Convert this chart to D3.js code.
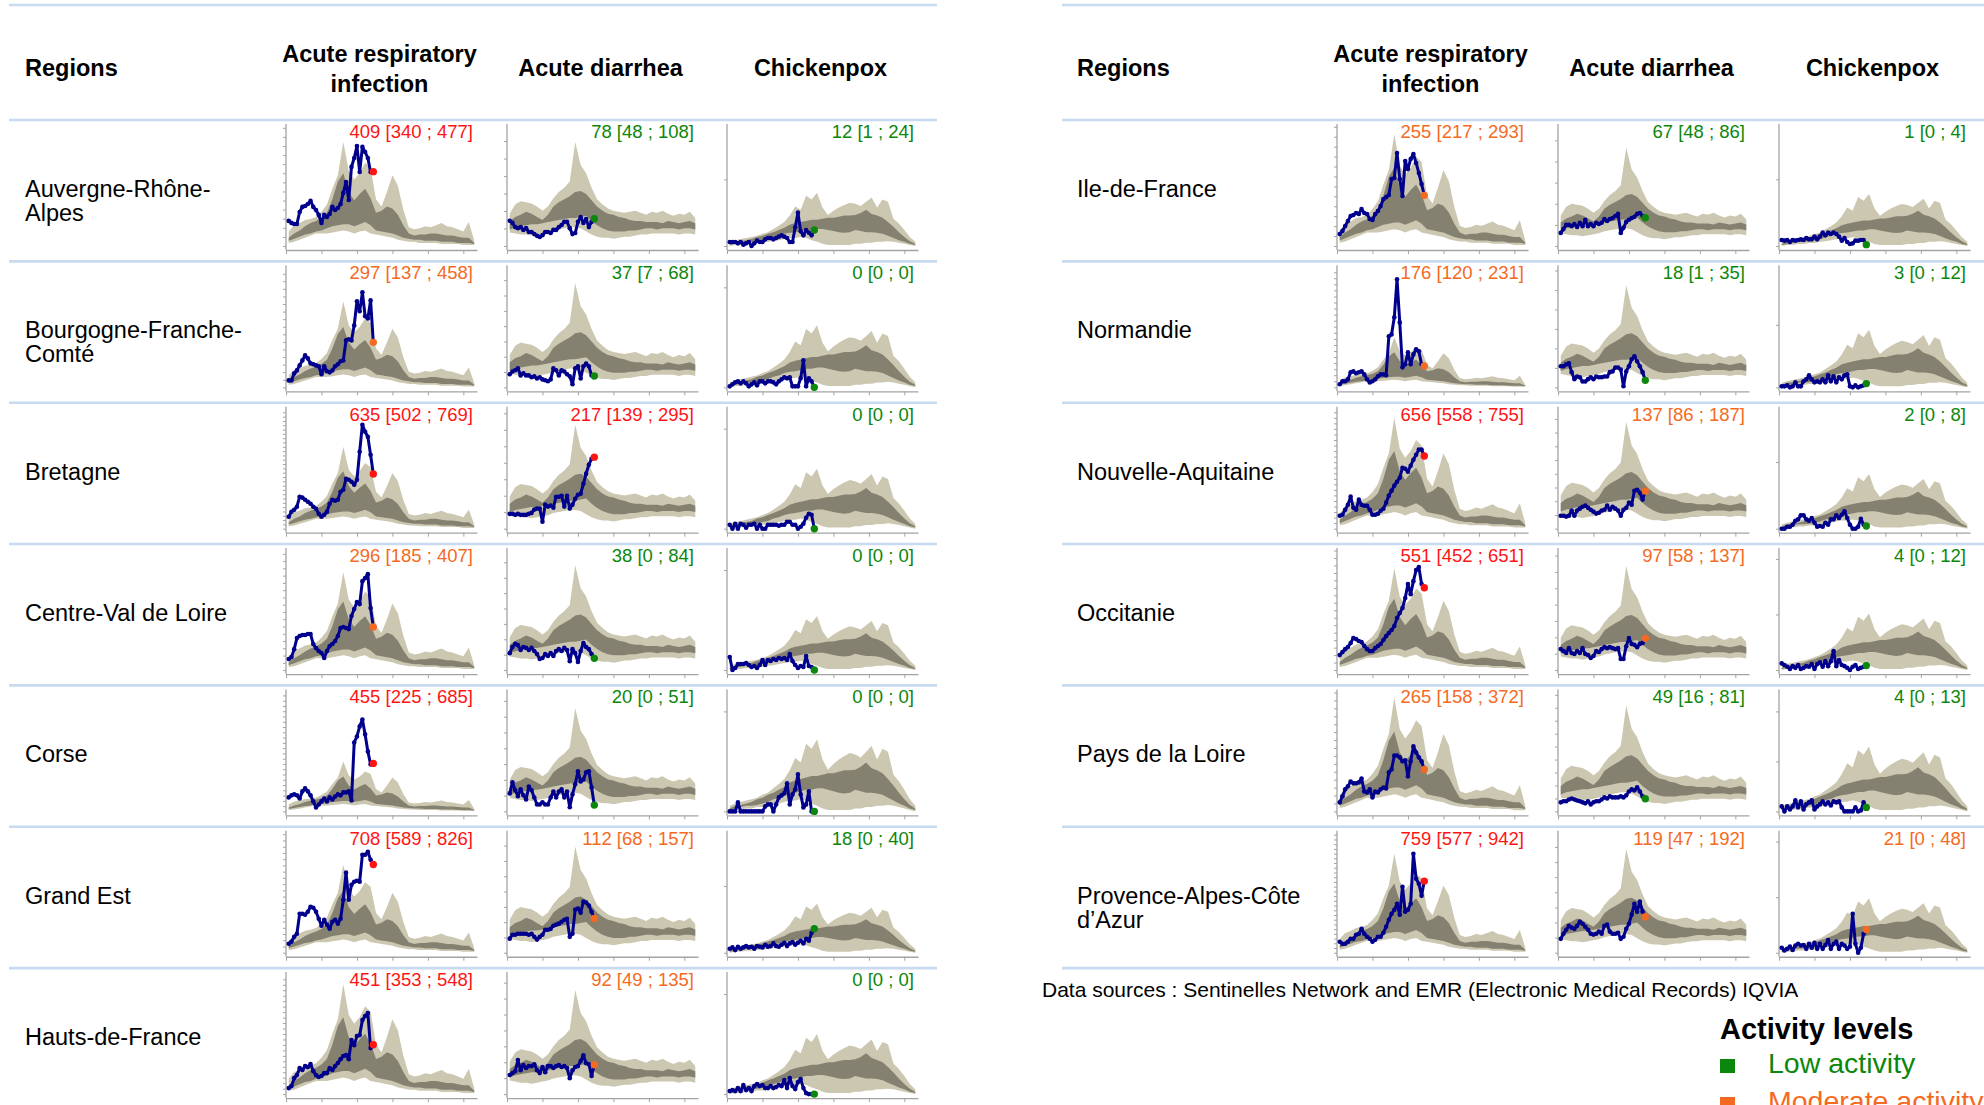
<!DOCTYPE html>
<html>
<head>
<meta charset="utf-8">
<script src="https://cdn.jsdelivr.net/npm/d3@7"></script>
<style>
  html, body { margin: 0; padding: 0; background: #ffffff; }
  svg { display: block; font-family: "Liberation Sans", Arial, Helvetica, sans-serif; }
</style>
</head>
<body>
<script>
// ---------------------------------------------------------------------------
// Surveillance table: weekly incidence per 100,000 by region and indicator
// ---------------------------------------------------------------------------

const indicators = ["Acute respiratory infection", "Acute diarrhea", "Chickenpox"];

const regions = [
  "Auvergne-Rhône-Alpes", "Bourgogne-Franche-Comté", "Bretagne", "Centre-Val de Loire",
  "Corse", "Grand Est", "Hauts-de-France",
  "Ile-de-France", "Normandie", "Nouvelle-Aquitaine", "Occitanie", "Pays de la Loire",
  "Provence-Alpes-Côte d’Azur"
];

// Current week estimate with its confidence interval: [ARI, diarrhea, chickenpox]
const estimate = [
  [409, 78, 12], [297, 37, 0], [635, 217, 0], [296, 38, 0], [455, 20, 0], [708, 112, 18], [451, 92, 0],
  [255, 67, 1], [176, 18, 3], [656, 137, 2], [551, 97, 4], [265, 49, 4], [759, 119, 21]
];
const lowerCI = [
  [340, 48, 1], [137, 7, 0], [502, 139, 0], [185, 0, 0], [225, 0, 0], [589, 68, 0], [353, 49, 0],
  [217, 48, 0], [120, 1, 0], [558, 86, 0], [452, 58, 0], [158, 16, 0], [577, 47, 0]
];
const upperCI = [
  [477, 108, 24], [458, 68, 0], [769, 295, 0], [407, 84, 0], [685, 51, 0], [826, 157, 40], [548, 135, 0],
  [293, 86, 4], [231, 35, 12], [755, 187, 8], [651, 137, 12], [372, 81, 13], [942, 192, 48]
];
const activity = [
  ["high", "low", "low"], ["moderate", "low", "low"], ["high", "high", "low"], ["moderate", "low", "low"],
  ["high", "low", "low"], ["high", "moderate", "low"], ["high", "moderate", "low"],
  ["moderate", "low", "low"], ["moderate", "low", "low"], ["high", "moderate", "low"],
  ["high", "moderate", "low"], ["moderate", "low", "low"], ["high", "moderate", "moderate"]
];

// Top of each sparkline's value axis, and the historical seasonal peak used for the bands
const axisTop = [
  [660, 343, 90], [792, 392, 60], [1392, 364, 60], [826, 390, 60], [1138, 380, 60], [962, 392, 90], [1098, 377, 60],
  [604, 284, 90], [990, 308, 96], [1082, 437, 90], [803, 367, 108], [757, 463, 120], [1271, 397, 108]
];
const historicPeak = [
  [572, 297, 40], [568, 340, 31], [951, 315, 30], [674, 341, 27], [474, 327, 36], [706, 347, 37], [1006, 327, 30],
  [563, 232, 39], [413, 262, 46], [1001, 389, 41], [682, 318, 51], [719, 409, 65], [1048, 344, 49]
];

// Historical seasonal profiles (% of the seasonal peak), every second week of the season
const ariOuterHigh = [14,20,22,25,26,28,33,40,55,68,100,72,64,70,80,75,45,38,52,68,58,35,18,16,17,19,18,20,22,19,18,16,14,23,5];
const ariInnerHigh = [8,12,15,19,22,24,27,32,45,62,70,52,44,50,55,46,32,34,38,36,30,20,12,10,11,11,12,12,11,10,10,9,8,8,3];
const ariInnerLow  = [5,7,9,11,12,14,15,17,19,20,21,21,19,21,23,20,15,14,13,12,10,8,7,6,6,5,5,5,4,4,4,3,3,3,2];
const ariOuterLow  = [3,4,6,8,10,12,12,12,13,14,15,14,12,14,15,12,11,10,9,8,6,5,4,4,3,3,3,3,2,2,2,2,1,1,1];

const adOuterHigh = [31,40,43,42,41,38,34,38,46,52,56,62,100,78,70,56,45,40,36,34,33,32,33,34,32,30,33,32,34,31,29,31,30,33,27];
const adInnerHigh = [24,28,30,33,31,28,25,30,38,42,45,48,52,53,50,44,38,34,31,30,28,27,25,24,24,23,23,23,22,24,23,22,23,24,22];
const adInnerLow  = [16,18,19,20,21,21,22,23,24,25,26,27,27,28,29,24,20,17,15,14,14,14,15,15,16,17,17,16,17,17,17,16,17,17,16];
const adOuterLow  = [13,12,11,11,10,11,12,13,15,16,17,18,18,17,14,11,9,8,8,7,8,9,9,10,11,11,12,12,12,12,12,11,12,12,11];

const cpOuterHigh = [8,11,13,15,17,19,23,26,32,38,45,57,74,68,94,87,100,72,58,66,72,77,81,79,75,83,91,72,87,83,51,42,30,17,8];
const cpInnerHigh = [4,8,9,11,13,17,19,23,26,30,34,40,43,45,47,49,49,51,53,53,55,57,57,58,62,68,60,57,53,45,36,26,17,9,4];
const cpInnerLow  = [2,4,6,8,8,9,11,13,17,19,23,25,26,28,30,30,32,32,30,28,26,25,26,30,28,26,26,25,23,19,15,11,8,4,2];
const cpOuterLow  = [0,2,2,4,4,6,6,8,9,11,13,15,15,17,15,11,8,4,2,2,2,2,2,4,4,6,6,8,8,9,8,6,4,2,0];

// Weekly incidence since the start of the season (weeks 1-31), per region: [ARI, diarrhea, chickenpox]
const rateAuvergne = [
  [138,127,121,121,187,215,220,231,248,215,198,171,127,171,160,176,215,198,209,231,292,352,253,435,484,550,407,545,517,484,407],
  [72,66,54,51,54,46,51,40,40,34,29,26,31,40,40,37,46,46,54,60,69,69,51,34,37,69,83,66,77,54,69],
  [3,3,3,2,3,1,2,3,0,2,4,3,3,5,6,6,5,6,7,8,7,6,3,3,14,25,11,8,12,10,8]
];
const rateBourgogne = [
  [46,46,92,112,145,178,211,191,158,152,145,139,86,139,106,99,112,139,152,172,178,310,317,310,409,568,502,627,469,455,574],
  [43,52,56,62,39,46,39,39,33,36,29,33,26,23,20,26,62,56,39,56,52,43,36,10,62,69,29,69,78,69,39],
  [0.5,1.5,2.5,3,2,3,2,0.5,1.5,2.5,1,3,3,2,3,3,2.5,1.5,3,4,5,4.5,5,0.5,0.5,0.5,4.5,13.5,0.5,4.5,3]
];
const rateBretagne = [
  [139,197,220,255,371,360,336,313,290,255,232,174,139,162,197,290,336,325,336,429,452,580,568,545,510,568,893,1206,1125,1067,858],
  [45,45,42,45,42,42,42,45,48,58,61,61,21,73,67,70,64,97,97,100,67,100,61,73,91,103,106,136,167,194,212],
  [2,0,2.5,0,2.5,2,0.5,2,2,2.5,0,2,0,0,2,2,2,2,1.5,2,2,3.5,3.5,2,2,0,1,2.5,5.5,7.5,7]
];
const rateCentre = [
  [76,89,144,220,234,241,241,248,248,179,151,131,117,83,131,165,179,200,234,289,296,289,282,372,420,468,454,612,633,660,427],
  [55,75,85,81,65,75,72,65,72,62,52,36,39,52,46,55,46,62,68,62,72,65,29,68,55,26,62,88,75,68,52],
  [6.5,0,1,3,3,3,3.5,2.5,1.5,2,1,2.5,5,2.5,5,4.5,5.5,5,6,5.5,6,5,8,4.5,2.5,1,2,1.5,7,2,1.5]
];
const rateCorse = [
  [133,152,161,152,123,190,218,190,152,95,38,66,95,123,95,133,114,142,161,152,180,180,190,104,654,711,806,872,730,569,446],
  [57,92,67,48,70,51,38,79,67,44,22,22,29,22,22,44,63,44,63,70,44,63,13,54,86,127,95,101,124,127,76],
  [0,0,0,4.5,0,0,0,0,0,0,0,0,0,2.5,3.5,3.5,0,3.5,7,8,9,14,3.5,8.5,11,18.5,8.5,2,3.5,10,0]
];
const rateGrandEst = [
  [72,88,128,152,313,313,305,329,369,361,329,273,217,265,225,192,249,265,233,273,425,642,425,545,569,577,569,786,786,810,746],
  [46,59,59,62,62,62,62,59,62,52,43,52,59,75,75,78,88,92,95,101,108,111,52,62,141,144,131,167,164,154,134],
  [3,4,2,4.5,3,4,5,4,4.5,3,5,4.5,4,6,4.5,5,7,5,4.5,6,7.5,5,7,8,6,7.5,9,7,10.5,9,15]
];
const rateHauts = [
  [55,73,146,174,238,220,256,247,275,210,174,156,165,192,192,238,220,256,284,320,348,357,320,494,448,531,540,677,714,741,421],
  [60,66,72,107,75,91,82,88,88,94,75,66,85,69,88,88,82,88,91,85,88,82,50,75,85,88,104,122,97,94,57],
  [1.5,2,1.5,3,1.5,4.5,2,3,1.5,4,5,4,4.5,3,3,4,3,3.5,4.5,4,7,3,8,4,2.5,6,7.5,3,0.5,0,0]
];
const rateIdf = [
  [60,75,101,126,151,156,166,161,186,166,161,136,131,161,176,201,236,246,257,337,342,468,337,252,428,387,438,463,418,367,312],
  [31,40,50,50,47,52,45,55,47,62,47,52,47,55,52,55,64,59,64,66,71,76,31,43,57,62,66,69,76,78,71],
  [4.5,4,4.5,3,4.5,4,4.5,5,4.5,6,5,5,7,5,7,10,8,10,9,10,9,7,4,6,3,1.5,2,4,4,4.5,4.5]
];
const rateNormandie = [
  [25,50,50,66,124,132,116,124,132,107,66,41,50,66,91,107,107,99,421,437,578,891,536,165,190,289,190,272,314,297,190],
  [54,54,59,62,39,21,28,26,15,15,21,26,21,28,26,26,28,28,39,41,51,51,46,3,41,54,72,80,67,54,39],
  [0.8,0.8,1.6,0,0.8,4,0.8,0.8,4.8,6.4,9.6,6.4,4,4.8,4,6.4,4,9.6,4.8,8.8,4,8,6.4,9.6,10.4,0.8,0,1.6,0,0.8,1.6]
];
const rateNouvelleAquitaine = [
  [117,126,171,216,289,189,171,262,216,207,207,171,126,126,135,162,180,235,298,343,388,424,460,550,541,514,568,622,667,713,713],
  [47,47,44,47,66,47,66,73,80,84,76,69,62,55,58,66,69,84,69,80,73,66,47,69,76,95,87,138,142,131,106],
  [0,0,1.5,1.5,3,6,7,10,10,7,6,8,4.5,1.5,2,1.5,4.5,3,7,7,10,8,10.5,13,8,3,0,0,1.5,7.5,3]
];
const rateOccitanie = [
  [100,120,140,154,181,214,207,194,187,161,140,127,127,147,161,174,201,227,248,268,294,348,381,415,482,575,508,595,669,689,575],
  [64,58,52,67,52,49,58,52,67,49,46,37,43,58,55,64,70,67,70,67,64,67,34,34,73,98,80,77,70,80,83],
  [6,4.5,3,1,3.5,2,4.5,1,2,3.5,3,5.5,1,5.5,7,3,8,3.5,8,17,3.5,9,4.5,3.5,2,0,3,4.5,1,2,3]
];
const ratePaysDeLaLoire = [
  [57,95,139,158,189,177,177,183,208,126,120,139,88,126,120,139,151,145,246,265,353,353,341,316,322,221,316,410,372,341,316],
  [35,39,39,46,50,46,42,39,35,31,39,27,35,39,39,46,54,50,58,54,54,54,58,54,62,77,85,81,93,77,58],
  [5,0,5,2,5,11,4,10,2,7,9,11,2,5,7,10,7,9,6,10,9,10,4,0,0,0,0,4,0,1,9]
];
const ratePaca = [
  [116,95,95,116,148,148,191,201,254,201,169,148,116,138,169,169,212,275,349,413,455,519,402,699,434,455,519,1048,784,731,604],
  [46,63,76,89,83,79,89,103,96,86,76,63,60,63,70,63,89,93,70,63,63,66,46,53,79,96,126,162,136,169,136],
  [4.5,2,3.5,5.5,2.5,6.5,8,6.5,7,3.5,8,4.5,9,3.5,8,3.5,7,11.5,3.5,8,10,3.5,8,6.5,3.5,5.5,35,8,0,4.5,17]
];

const weeklyRates = [
  rateAuvergne, rateBourgogne, rateBretagne, rateCentre, rateCorse, rateGrandEst, rateHauts,
  rateIdf, rateNormandie, rateNouvelleAquitaine, rateOccitanie, ratePaysDeLaLoire, ratePaca
];

const outerHigh = [ariOuterHigh, adOuterHigh, cpOuterHigh];
const innerHigh = [ariInnerHigh, adInnerHigh, cpInnerHigh];
const innerLow  = [ariInnerLow, adInnerLow, cpInnerLow];
const outerLow  = [ariOuterLow, adOuterLow, cpOuterLow];

const legendLevels = ["low", "moderate"];
const legendLabels = ["Low activity", "Moderate activity"];
const sourceNote = "Data sources : Sentinelles Network and EMR (Electronic Medical Records) IQVIA";

// ---------------------------------------------------------------------------
// Layout and styles
// ---------------------------------------------------------------------------
const W = 1984, H = 1105;
const levelColor = { low: "#0B870B", moderate: "#F56A22", high: "#FF1414" };
const ruleColor = "#C8DAF0";
const axisColor = "#A3A3A3";
const outerFill = "#CCC7B1";
const innerFill = "#858171";
const lineColor = "#00008C";

const headerRule = 120, rowH = 141.35, plotW = 191;
const tables = [
  { first: 0, count: 7, left: 9, right: 937, nameX: 25, plotX: [286, 507, 727] },
  { first: 7, count: 6, left: 1062, right: 1984, nameX: 1077, plotX: [1337, 1558, 1779] }
];

const x = d3.scaleLinear().domain([0, 70]).range([0, plotW]);
const bandWeeks = d3.range(1, 70, 2);
const currentWeek = 32;

const svg = d3.select("body").append("svg")
  .attr("width", W).attr("height", H)
  .attr("viewBox", `0 0 ${W} ${H}`);

// word wrap on spaces and hyphens
function wrapLines(text, maxWidth, style) {
  const tokens = text.match(/[^\s-]+-?\s?|\s/g);
  const probe = svg.append("text").attr("style", style).attr("visibility", "hidden");
  const lines = [];
  let cur = "";
  tokens.forEach(tok => {
    const trial = cur + tok;
    probe.text(trial.trim());
    if (cur && probe.node().getComputedTextLength() > maxWidth) {
      lines.push(cur.trim());
      cur = tok;
    } else {
      cur = trial;
    }
  });
  if (cur.trim()) lines.push(cur.trim());
  probe.remove();
  return lines;
}

const headStyle = "font-size:23.5px;font-weight:bold;";
const nameStyle = "font-size:23.5px;";

tables.forEach(t => {
  const tg = svg.append("g");
  // horizontal rules
  const ruleYs = [5, headerRule].concat(d3.range(1, t.count + 1).map(i => headerRule + i * rowH));
  tg.selectAll("line.rule").data(ruleYs).join("line")
    .attr("class", "rule")
    .attr("x1", t.left).attr("x2", t.right)
    .attr("y1", d => d).attr("y2", d => d)
    .attr("stroke", ruleColor).attr("stroke-width", 2.6);

  // column headers
  tg.append("text").attr("x", t.nameX).attr("y", 76)
    .attr("style", headStyle).attr("fill", "#000").text("Regions");
  indicators.forEach((name, d) => {
    const lines = wrapLines(name, 205, headStyle);
    const cx = t.plotX[d] + plotW / 2 - 2;
    const y0 = lines.length > 1 ? 61.5 : 76;
    const txt = tg.append("text").attr("style", headStyle).attr("text-anchor", "middle").attr("fill", "#000");
    lines.forEach((ln, i) => txt.append("tspan").attr("x", cx).attr("y", y0 + i * 30.5).text(ln));
  });

  // rows
  for (let k = 0; k < t.count; k++) {
    const r = t.first + k;
    const top = headerRule + k * rowH;

    const nameLines = wrapLines(regions[r], 235, nameStyle);
    const nt = tg.append("text").attr("style", nameStyle).attr("fill", "#000");
    nameLines.forEach((ln, i) => nt.append("tspan").attr("x", t.nameX).attr("y", top + 77 + i * 24).text(ln));

    indicators.forEach((_, d) => {
      const g = tg.append("g").attr("transform", `translate(${t.plotX[d]},${top})`);
      const y = d3.scaleLinear().domain([0, axisTop[r][d]]).range([126, 6]);
      const peak = historicPeak[r][d];

      const bands = bandWeeks.map((w, i) => ({
        w,
        oh: outerHigh[d][i] * peak / 100,
        ih: innerHigh[d][i] * peak / 100,
        il: innerLow[d][i] * peak / 100,
        ol: outerLow[d][i] * peak / 100
      }));

      g.append("path").datum(bands)
        .attr("fill", outerFill)
        .attr("d", d3.area().x(b => x(b.w)).y0(b => y(b.ol)).y1(b => y(b.oh)));
      g.append("path").datum(bands)
        .attr("fill", innerFill)
        .attr("d", d3.area().x(b => x(b.w)).y0(b => y(b.il)).y1(b => y(b.ih)));

      // axes
      const yAxis = g.append("g")
        .call(d3.axisLeft(y).tickValues(d3.range(0, axisTop[r][d] + 1e-6, 50)).tickSize(3).tickFormat(""));
      yAxis.select(".domain").remove();
      yAxis.selectAll("line").attr("stroke", axisColor);
      g.append("line").attr("x1", 0).attr("x2", 0).attr("y1", 4).attr("y2", 130)
        .attr("stroke", axisColor).attr("stroke-width", 1.3);

      const xAxis = g.append("g").attr("transform", "translate(0,130)")
        .call(d3.axisBottom(x).tickValues([0, 13, 26, 39, 52, 65]).tickSize(4).tickSizeOuter(0).tickFormat(""));
      xAxis.select(".domain").attr("stroke", axisColor).attr("stroke-width", 1.3);
      xAxis.selectAll("line").attr("stroke", axisColor);

      // weekly incidence up to the current estimate
      const series = weeklyRates[r][d].map((v, i) => ({ w: i + 1, v }))
        .concat([{ w: currentWeek, v: estimate[r][d] }]);
      g.append("path").datum(series)
        .attr("fill", "none").attr("stroke", lineColor).attr("stroke-width", 3)
        .attr("stroke-linejoin", "round")
        .attr("d", d3.line().x(p => x(p.w)).y(p => y(p.v)));
      g.selectAll("circle.pt").data(series.slice(0, -1)).join("circle")
        .attr("class", "pt")
        .attr("cx", p => x(p.w)).attr("cy", p => y(p.v)).attr("r", 2.3)
        .attr("fill", lineColor);

      const col = levelColor[activity[r][d]];
      g.append("circle")
        .attr("cx", x(currentWeek)).attr("cy", y(estimate[r][d])).attr("r", 3.7)
        .attr("fill", col);

      g.append("text")
        .attr("x", plotW - 4).attr("y", 18)
        .attr("text-anchor", "end")
        .attr("style", "font-size:18.5px;")
        .attr("fill", col)
        .text(`${estimate[r][d]} [${lowerCI[r][d]} ; ${upperCI[r][d]}]`);
    });
  }
});

// data source note
svg.append("text").attr("x", 1042).attr("y", 997)
  .attr("style", "font-size:21px;").attr("fill", "#000").text(sourceNote);

// legend
const lg = svg.append("g");
lg.append("text").attr("x", 1720).attr("y", 1039)
  .attr("style", "font-size:29px;font-weight:bold;").attr("fill", "#000").text("Activity levels");
legendLevels.forEach((lvl, i) => {
  const by = 1073 + i * 38;
  lg.append("rect").attr("x", 1720).attr("y", by - 14).attr("width", 15).attr("height", 14)
    .attr("fill", levelColor[lvl]);
  lg.append("text").attr("x", 1768).attr("y", by)
    .attr("style", "font-size:28.5px;").attr("fill", levelColor[lvl]).text(legendLabels[i]);
});
</script>
</body>
</html>
